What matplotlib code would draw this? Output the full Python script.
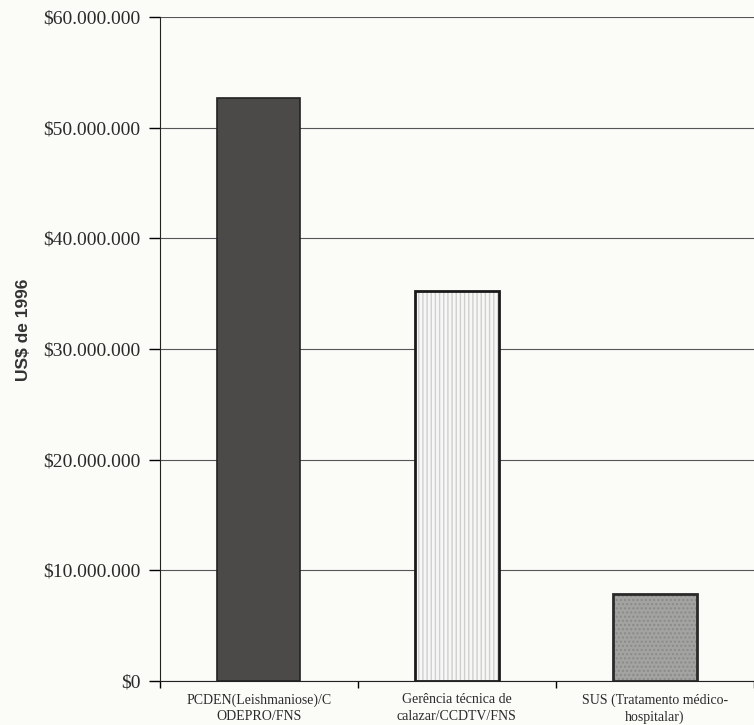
import numpy as np
import matplotlib.pyplot as plt
from matplotlib.ticker import FuncFormatter

# Custos do programa de controle do calazar (US$ de 1996)
categorias = ["PCDEN(Leishmaniose)/C\nODEPRO/FNS",
              "Gerência técnica de\ncalazar/CCDTV/FNS",
              "SUS (Tratamento médico-\nhospitalar)"]
valores = [52_700_000, 35_200_000, 7_900_000]
yticks = [0, 10_000_000, 20_000_000, 30_000_000, 40_000_000, 50_000_000, 60_000_000]

plt.rcParams['font.family'] = ['Liberation Serif', 'DejaVu Serif']

fig = plt.figure(figsize=(7.54, 7.25), dpi=100, facecolor="#fbfbf8")
ax = fig.add_axes([0.212, 0.0607, 0.788, 0.916])
ax.set_facecolor("#fbfbf8")

x = np.arange(len(categorias))
w = 0.42

# barra 1: cinza escuro sólido
ax.bar(x[0], valores[0], width=w, color="#4b4a48", edgecolor="#222222",
       linewidth=1.2, zorder=3)
# barra 2: branco com listras verticais claras
ax.bar(x[1], valores[1], width=w, color="#f7f7f5", edgecolor="#cfcfcf",
       hatch="||||", linewidth=0, zorder=3)
ax.bar(x[1], valores[1], width=w, fill=False, edgecolor="#1a1a1a",
       linewidth=2.0, zorder=4)
# barra 3: cinza pontilhado
ax.bar(x[2], valores[2], width=w, color="#a3a3a1", edgecolor="#8a8a88",
       hatch="....", linewidth=0, zorder=3)
ax.bar(x[2], valores[2], width=w, fill=False, edgecolor="#2a2a2a",
       linewidth=2.0, zorder=4)

ax.set_xlim(-0.5, len(categorias) - 0.5)
ax.set_ylim(0, 60_000_000)
ax.set_yticks(yticks)
ax.yaxis.set_major_formatter(
    FuncFormatter(lambda v, p: "$" + f"{int(v):,}".replace(",", ".")))
ax.tick_params(axis="y", labelsize=14, length=8, width=1, pad=6,
               labelcolor="#2a2a2a")

ax.set_xticks(x)
ax.set_xticklabels(categorias, fontsize=10, color="#2a2a2a", linespacing=1.35)
ax.tick_params(axis="x", length=0, pad=9)
ax.set_xticks(np.arange(len(categorias) + 1) - 0.5, minor=True)
ax.tick_params(axis="x", which="minor", length=5, width=1, direction="out")

ax.yaxis.grid(True, color="#555555", linewidth=0.8, zorder=0)
ax.set_axisbelow(True)
for s in ["top", "right"]:
    ax.spines[s].set_visible(False)
ax.spines["left"].set_color("#222222")
ax.spines["bottom"].set_color("#222222")

fig.text(24 / 754, 1 - 330 / 725, "US$ de 1996", rotation=90,
         ha="center", va="center", fontsize=12.5, fontweight="bold",
         color="#333333",
         family=["Liberation Sans Narrow", "Liberation Sans", "DejaVu Sans"])

fig.savefig("out.png", dpi=100, facecolor=fig.get_facecolor())
